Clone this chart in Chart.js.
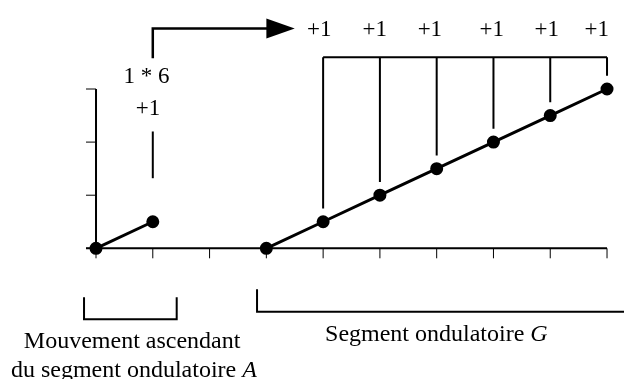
<!DOCTYPE html>
<html>
<head>
<meta charset="utf-8">
<script src="https://cdn.jsdelivr.net/npm/chart.js@4"></script>
<style>
  html, body { margin: 0; padding: 0; background: #fff; }
  canvas { display: block; }
</style>
</head>
<body>
<canvas id="chart" width="624" height="379"></canvas>
<script>
// axis ticks
const tickValuesX = [0, 1, 2, 3, 4, 5, 6, 7, 8, 9];
const tickValuesY = [0, 1, 2, 3];

// mouvement ascendant (segment A)
const ascentX = [0, 1];
const ascentY = [0, 0.5];

// segment ondulatoire G
const waveX = [3, 4, 5, 6, 7, 8, 9];
const waveY = [0, 0.5, 1, 1.5, 2, 2.5, 3];

// +1 steps hanging from the bracket
const stepX = [4, 5, 6, 7, 8, 9];
const stepEnd = [0.75, 1.25, 1.75, 2.25, 2.75, 3.25];
const stepLabels = ['+1', '+1', '+1', '+1', '+1', '+1'];
const stepLabelX = [3.93, 4.91, 5.88, 6.97, 7.94, 8.82];
const bracketTop = 3.6;

const font = '"Liberation Serif", "Times New Roman", serif';
const labelSize = 23;
const captionSize = 24;

function toPoints(xs, ys) {
    return xs.map((x, i) => ({ x: x, y: ys[i] }));
}

const annotations = {
    id: 'annotations',
    beforeDatasetsDraw(chart) {
        const ctx = chart.ctx;
        const xs = chart.scales.x, ys = chart.scales.y;
        const px = v => xs.getPixelForValue(v);
        const py = v => ys.getPixelForValue(v);
        ctx.save();
        ctx.strokeStyle = '#000';
        ctx.lineCap = 'butt';

        // axes
        ctx.lineWidth = 2;
        ctx.beginPath();
        ctx.moveTo(px(0), py(3));
        ctx.lineTo(px(0), py(0));
        ctx.moveTo(px(0) - 10, py(0));
        ctx.lineTo(px(9), py(0));
        ctx.stroke();

        ctx.lineWidth = 1;
        ctx.beginPath();
        tickValuesY.forEach(v => {
            ctx.moveTo(px(0) - 10, py(v));
            ctx.lineTo(px(0), py(v));
        });
        tickValuesX.forEach(v => {
            ctx.moveTo(px(v), py(0));
            ctx.lineTo(px(v), py(0) + 10);
        });
        ctx.stroke();
        ctx.restore();
    },
    afterDatasetsDraw(chart) {
        const ctx = chart.ctx;
        const xs = chart.scales.x, ys = chart.scales.y;
        const px = v => xs.getPixelForValue(v);
        const py = v => ys.getPixelForValue(v);
        ctx.save();
        ctx.strokeStyle = '#000';
        ctx.fillStyle = '#000';

        // bracket and drops
        ctx.lineWidth = 2;
        ctx.beginPath();
        ctx.moveTo(px(stepX[0]), py(bracketTop));
        ctx.lineTo(px(stepX[stepX.length - 1]), py(bracketTop));
        stepX.forEach((x, i) => {
            ctx.moveTo(px(x), py(bracketTop));
            ctx.lineTo(px(x), py(stepEnd[i]));
        });
        ctx.stroke();

        // +1 labels
        ctx.font = labelSize + 'px ' + font;
        ctx.textAlign = 'center';
        ctx.textBaseline = 'alphabetic';
        stepLabels.forEach((t, i) => ctx.fillText(t, px(stepLabelX[i]), py(4.0)));

        // left annotation 1 * 6 / +1 and arrow
        ctx.fillText('1 * 6', px(0.89), py(3.12));
        ctx.fillText('+1', px(0.915), py(2.51));

        ctx.lineWidth = 2;
        ctx.beginPath();
        ctx.moveTo(px(1), py(2.2));
        ctx.lineTo(px(1), py(1.32));
        ctx.stroke();

        ctx.lineWidth = 2.5;
        ctx.beginPath();
        ctx.moveTo(px(1), py(3.58));
        ctx.lineTo(px(1), py(4.14));
        ctx.lineTo(px(3.02), py(4.14));
        ctx.stroke();
        ctx.beginPath();
        ctx.moveTo(px(3.0), py(4.14) - 10);
        ctx.lineTo(px(3.5), py(4.14));
        ctx.lineTo(px(3.0), py(4.14) + 10);
        ctx.closePath();
        ctx.fill();

        // bottom brackets
        ctx.lineWidth = 2;
        ctx.beginPath();
        ctx.moveTo(px(-0.211), py(-0.923));
        ctx.lineTo(px(-0.211), py(-1.337));
        ctx.lineTo(px(1.421), py(-1.337));
        ctx.lineTo(px(1.421), py(-0.923));
        ctx.moveTo(px(2.836), py(-0.772));
        ctx.lineTo(px(2.836), py(-1.194));
        ctx.lineTo(px(9.4), py(-1.194));
        ctx.stroke();

        // bottom captions (last word italic)
        function caption(normal, italic, cx, cy) {
            ctx.font = captionSize + 'px ' + font;
            const w1 = ctx.measureText(normal).width;
            ctx.font = 'italic ' + captionSize + 'px ' + font;
            const w2 = italic ? ctx.measureText(italic).width : 0;
            let x = px(cx) - (w1 + w2) / 2;
            ctx.textAlign = 'left';
            ctx.textBaseline = 'alphabetic';
            ctx.font = captionSize + 'px ' + font;
            ctx.fillText(normal, x, py(cy));
            if (italic) {
                ctx.font = 'italic ' + captionSize + 'px ' + font;
                ctx.fillText(italic, x + w1, py(cy));
            }
        }
        caption('Mouvement ascendant', '', 0.636, -1.878);
        caption('du segment ondulatoire ', 'A', 0.667, -2.414);
        caption('Segment ondulatoire ', 'G', 5.994, -1.746);

        ctx.restore();
    }
};

new Chart(document.getElementById('chart'), {
    type: 'scatter',
    data: {
        datasets: [
            {
                label: 'Mouvement ascendant',
                data: toPoints(ascentX, ascentY),
                showLine: true,
                borderColor: '#000',
                backgroundColor: '#000',
                borderWidth: 3,
                pointRadius: 5,
                clip: false
            },
            {
                label: 'Segment ondulatoire G',
                data: toPoints(waveX, waveY),
                showLine: true,
                borderColor: '#000',
                backgroundColor: '#000',
                borderWidth: 3,
                pointRadius: 5,
                clip: false
            }
        ]
    },
    options: {
        responsive: false,
        animation: false,
        devicePixelRatio: 1,
        layout: { padding: 0, autoPadding: false },
        plugins: {
            legend: { display: false },
            tooltip: { enabled: false }
        },
        scales: {
            x: { type: 'linear', min: -1.691, max: 9.299, display: false },
            y: { type: 'linear', min: -2.461, max: 4.676, display: false }
        }
    },
    plugins: [annotations]
});
</script>
</body>
</html>
